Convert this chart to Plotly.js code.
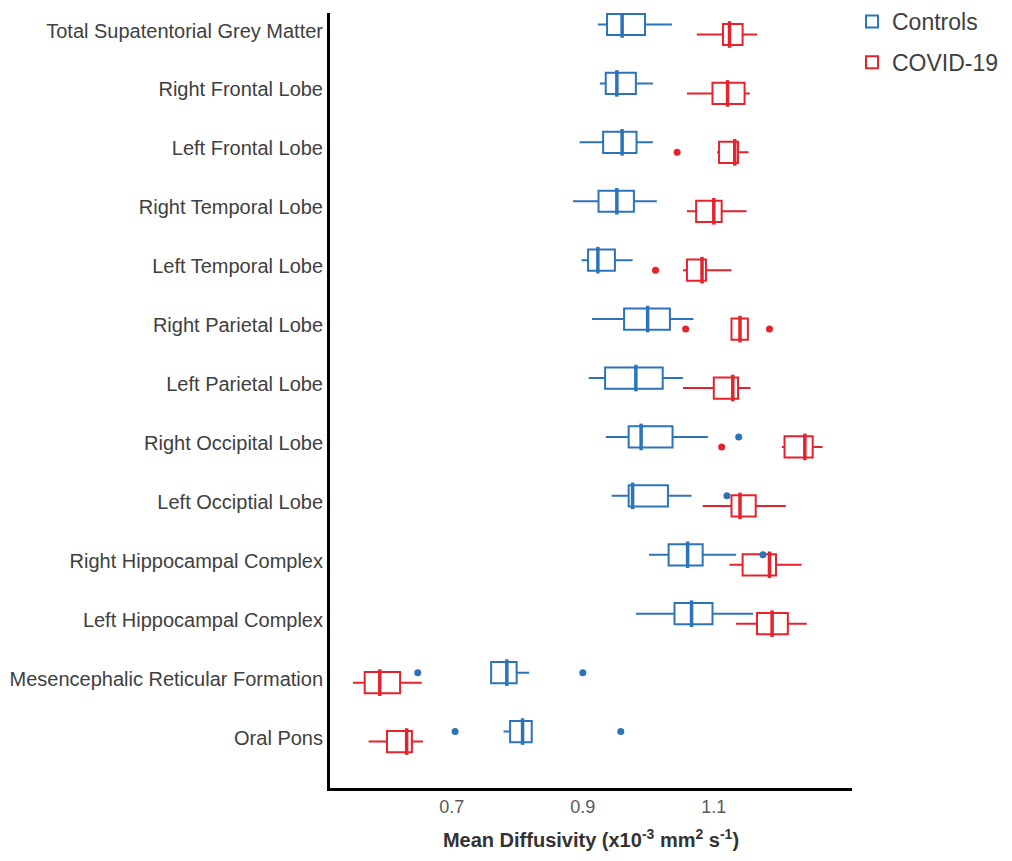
<!DOCTYPE html>
<html>
<head>
<meta charset="utf-8">
<script src="https://cdn.plot.ly/plotly-3.0.1.min.js"></script>
<style>html,body{margin:0;padding:0;background:#fff;}#chart{width:1012px;height:861px;}</style>
</head>
<body>
<div id="chart"></div>
<script>
const categories = ["Total Supatentorial Grey Matter", "Right Frontal Lobe", "Left Frontal Lobe", "Right Temporal Lobe", "Left Temporal Lobe", "Right Parietal Lobe", "Left Parietal Lobe", "Right Occipital Lobe", "Left Occiptial Lobe", "Right Hippocampal Complex", "Left Hippocampal Complex", "Mesencephalic Reticular Formation", "Oral Pons"];

const controlsLower  = [0.923, 0.926, 0.895, 0.885, 0.898, 0.914, 0.909, 0.935, 0.944, 1.001, 0.981, 0.760, 0.779];
const controlsQ1     = [0.937, 0.935, 0.931, 0.924, 0.908, 0.963, 0.934, 0.970, 0.970, 1.031, 1.040, 0.760, 0.789];
const controlsMedian = [0.960, 0.952, 0.960, 0.952, 0.923, 0.999, 0.981, 0.989, 0.976, 1.060, 1.066, 0.784, 0.808];
const controlsQ3     = [0.995, 0.981, 0.982, 0.978, 0.949, 1.033, 1.022, 1.037, 1.030, 1.083, 1.098, 0.799, 0.822];
const controlsUpper  = [1.036, 1.007, 1.007, 1.013, 0.976, 1.069, 1.053, 1.091, 1.066, 1.134, 1.160, 0.818, 0.822];
const controlsOutlierCats = ["Right Occipital Lobe", "Left Occiptial Lobe", "Right Hippocampal Complex", "Mesencephalic Reticular Formation", "Mesencephalic Reticular Formation", "Oral Pons", "Oral Pons"];
const controlsOutlierVals = [1.138, 1.120, 1.175, 0.648, 0.900, 0.705, 0.958];

const covidLower  = [1.074, 1.059, 1.105, 1.059, 1.053, 1.127, 1.053, 1.204, 1.083, 1.124, 1.134, 0.549, 0.573];
const covidQ1     = [1.114, 1.098, 1.108, 1.073, 1.059, 1.127, 1.100, 1.208, 1.127, 1.144, 1.166, 0.567, 0.601];
const covidMedian = [1.124, 1.121, 1.132, 1.100, 1.082, 1.140, 1.129, 1.239, 1.140, 1.185, 1.189, 0.590, 0.631];
const covidQ3     = [1.144, 1.147, 1.137, 1.112, 1.088, 1.152, 1.137, 1.251, 1.164, 1.195, 1.213, 0.621, 0.639];
const covidUpper  = [1.166, 1.155, 1.153, 1.150, 1.127, 1.152, 1.156, 1.266, 1.210, 1.234, 1.242, 0.654, 0.656];
const covidOutlierCats = ["Left Frontal Lobe", "Left Temporal Lobe", "Right Parietal Lobe", "Right Parietal Lobe", "Right Occipital Lobe"];
const covidOutlierVals = [1.044, 1.011, 1.057, 1.185, 1.112];

const xTicks = [0.7, 0.9, 1.1];
const xTickText = ["0.7", "0.9", "1.1"];

const BLUE = "#2c74b9";
const RED = "#e4232d";
const FONT = "Liberation Sans, Arial, sans-serif";

function boxTrace(name, color, yaxis, lo, q1, med, q3, hi, group) {
  return {
    type: "box", orientation: "h", name: name, yaxis: yaxis,
    y: categories, lowerfence: lo, q1: q1, median: med, q3: q3, upperfence: hi,
    width: 0.36, whiskerwidth: 0,
    line: {color: color, width: 2}, fillcolor: "white",
    legendgroup: group, hoverinfo: "x"
  };
}
function medianTrace(color, yaxis, med) {
  return {
    type: "scatter", mode: "markers", yaxis: yaxis, x: med, y: categories,
    marker: {symbol: "line-ns", size: 19, color: color, line: {color: color, width: 3.5}},
    showlegend: false, hoverinfo: "skip"
  };
}
function outlierTrace(color, yaxis, cats, vals) {
  return {
    type: "scatter", mode: "markers", yaxis: yaxis, x: vals, y: cats,
    marker: {symbol: "circle", size: 7, color: color},
    showlegend: false, hoverinfo: "x"
  };
}

const data = [
  boxTrace("Controls", BLUE, "y2", controlsLower, controlsQ1, controlsMedian, controlsQ3, controlsUpper, "c"),
  boxTrace("COVID-19", RED, "y", covidLower, covidQ1, covidMedian, covidQ3, covidUpper, "v"),
  medianTrace(BLUE, "y2", controlsMedian),
  medianTrace(RED, "y", covidMedian),
  outlierTrace(BLUE, "y2", controlsOutlierCats, controlsOutlierVals),
  outlierTrace(RED, "y", covidOutlierCats, covidOutlierVals)
];

const layout = {
  width: 1012, height: 861,
  margin: {l: 330, r: 160, t: 0, b: 73},
  paper_bgcolor: "white", plot_bgcolor: "white",
  font: {family: FONT, color: "#404040"},
  boxmode: "overlay",
  showlegend: true,
  legend: {
    x: 1.0, xanchor: "left", y: 1.0, yanchor: "top",
    font: {size: 23, color: "#404040", family: FONT},
    traceorder: "grouped", tracegroupgap: 8, bgcolor: "rgba(0,0,0,0)", borderwidth: 0
  },
  xaxis: {
    range: [0.514, 1.311], tickvals: xTicks, ticktext: xTickText,
    showgrid: false, zeroline: false, showline: true, linecolor: "black", linewidth: 3,
    ticks: "", tickfont: {size: 18, color: "#595959", family: FONT},
    title: {text: "Mean Diffusivity (x10<sup>-3</sup> mm<sup>2</sup> s<sup>-1</sup>)", font: {size: 20, color: "#333333", family: FONT, weight: "bold"}, standoff: 18},
    automargin: false
  },
  yaxis: {
    type: "category", categoryarray: categories, categoryorder: "array",
    domain: [0, 0.9835],
    range: [12.788, -0.365], autorange: false,
    showgrid: false, zeroline: false, showline: true, linecolor: "black", linewidth: 3,
    ticks: "", tickfont: {size: 20, color: "#404040", family: FONT},
    ticklabelshift: 4, automargin: false
  },
  yaxis2: {
    type: "category", categoryarray: categories, categoryorder: "array",
    range: [12.958, -0.195], autorange: false, overlaying: "y",
    showgrid: false, zeroline: false, showline: false, showticklabels: false, ticks: ""
  }
};

Plotly.newPlot("chart", data, layout, {displayModeBar: false, staticPlot: true});
</script>
</body>
</html>
